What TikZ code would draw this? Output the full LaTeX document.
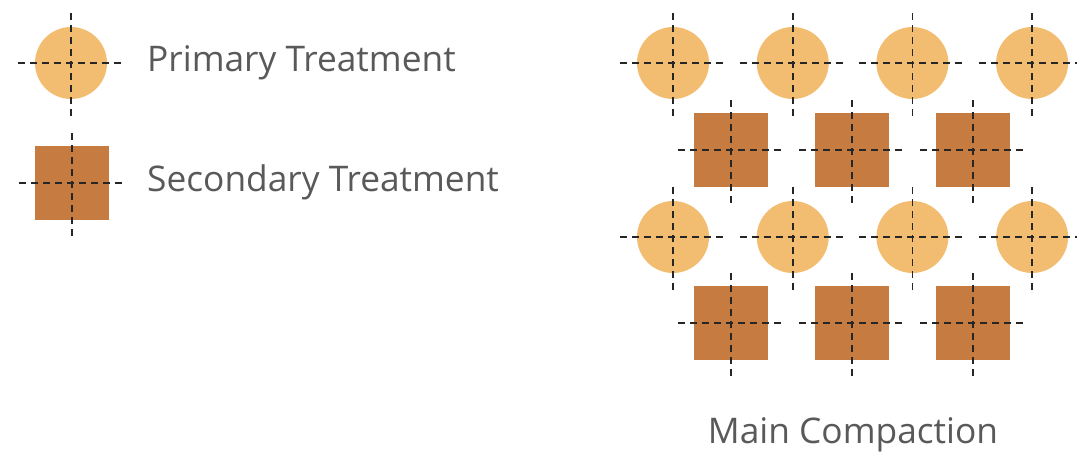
\documentclass[tikz,border=0pt]{standalone}
\usepackage{fontspec}
\setmainfont{Open Sans}
\definecolor{PrimaryTan}{RGB}{242, 189, 112}
\definecolor{SecondaryBrown}{RGB}{198, 123, 64}
\definecolor{LabelGray}{RGB}{89, 89, 89}
\usepackage{tikz}
\usetikzlibrary{calc}
\tikzset{
  primary/.style={circle, fill=PrimaryTan, draw=none, minimum size=72pt, inner sep=0pt},
  secondary/.style={rectangle, fill=SecondaryBrown, draw=none, minimum size=74pt, inner sep=0pt},
  crossline/.style={line width=1.6pt, color=black!85, dash pattern=on 7pt off 5pt},
  lbl/.style={font=\fontsize{35.3}{42}\selectfont, text=LabelGray, inner sep=0pt},
}
% crosshair through the centre of a node
\newcommand{\crosshair}[1]{%
  \draw[crossline] ([xshift=-53pt]#1.center) -- ([xshift=53pt]#1.center);
  \draw[crossline] ([yshift=-53pt]#1.center) -- ([yshift=53pt]#1.center);
}

\begin{document}
\begin{tikzpicture}[x=1pt, y=-1pt]
  \useasboundingbox (0,0) rectangle (1077,455);

  % legend
  \node[primary]   (legprim) at (71,63)  {};
  \node[secondary] (legsec)  at (72,183) {};
  \crosshair{legprim}
  \crosshair{legsec}
  \node[lbl, anchor=base west] (tprim) at (147,71)  {Primary Treatment};
  \node[lbl, anchor=base west] (tsec)  at (147,191) {Secondary Treatment};

  % compaction grid
  \foreach \r/\y in {1/63, 2/237} {
    \foreach \i in {0,...,3} {
      \node[primary] (c\r\i) at (673+119.7*\i, \y) {};
      \crosshair{c\r\i}
    }
  }
  \foreach \r/\y in {1/150, 2/323} {
    \foreach \i in {0,...,2} {
      \node[secondary] (s\r\i) at (731+121*\i, \y) {};
      \crosshair{s\r\i}
    }
  }

  \node[lbl, anchor=base] (tmain) at (853,443) {Main Compaction};
\end{tikzpicture}
\end{document}
